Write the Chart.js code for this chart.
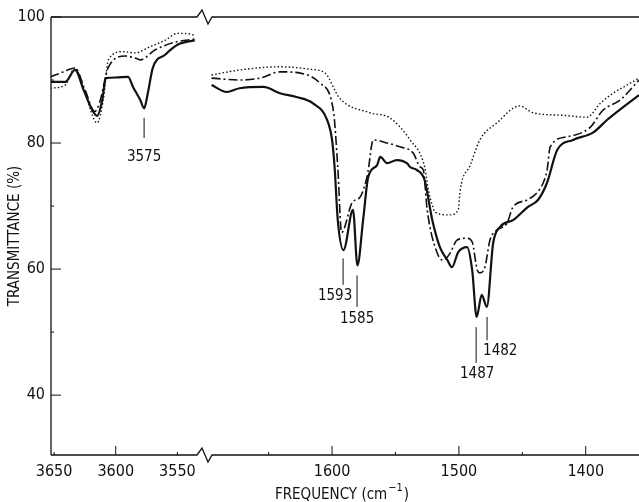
<!DOCTYPE html>
<html>
<head>
<meta charset="utf-8">
<script src="https://cdn.jsdelivr.net/npm/chart.js@4.4.1/dist/chart.umd.min.js"></script>
<style>
  html, body { margin: 0; padding: 0; background: #fff; }
</style>
</head>
<body>
<canvas id="spectrum" width="639" height="502"></canvas>
<script>
// --- O-H stretching region (left panel, cm-1) ---
var hiSolidFreq = [3653, 3641, 3633, 3626, 3619, 3615, 3611, 3608, 3600, 3590, 3586, 3580, 3577, 3574, 3570, 3560, 3550, 3536];
var hiSolidT    = [89.7, 89.7, 91.6, 88.4, 85.2, 84.3, 86.8, 90.3, 90.4, 90.5, 88.9, 86.8, 85.5, 87.9, 91.9, 94.0, 95.6, 96.3];

var hiDashFreq = [3653, 3645, 3633, 3625, 3617, 3613, 3606, 3592, 3583, 3580, 3568, 3552, 3536];
var hiDashT    = [90.5, 91.1, 91.9, 88.5, 85.0, 86.5, 92.0, 93.8, 93.4, 93.2, 94.8, 96.0, 96.5];

var hiDotFreq = [3653, 3641, 3633, 3625, 3615, 3610, 3606, 3594, 3584, 3572, 3560, 3550, 3540, 3536];
var hiDotT    = [88.7, 89.2, 91.9, 88.0, 83.2, 87.0, 93.2, 94.5, 94.3, 95.3, 96.3, 97.4, 97.3, 97.1];

// --- ring stretching region (right panel, cm-1) ---
var loSolidFreq = [1695, 1683, 1673, 1654, 1641, 1628, 1615, 1604, 1600, 1598, 1595.5, 1591, 1583.5, 1580, 1575.5, 1571.5,
                   1564.5, 1562, 1556.5, 1549, 1541, 1538.5, 1533, 1527, 1521, 1515, 1509, 1505.5, 1500.5, 1493.5, 1489.5,
                   1486, 1482, 1478, 1473, 1467.5, 1457, 1446, 1437.5, 1430.5, 1422.5, 1410, 1394, 1383, 1370.5, 1358];
var loSolidT    = [89.2, 88.1, 88.7, 88.9, 87.9, 87.3, 86.3, 83.7, 80.5, 76.2, 67.8, 63.0, 69.4, 60.6, 67.8, 74.6,
                   76.5, 77.8, 76.8, 77.3, 76.8, 76.2, 75.7, 74.1, 67.8, 63.5, 61.4, 60.3, 62.7, 63.5, 59.8,
                   52.4, 55.9, 54.0, 64.1, 66.7, 67.8, 69.8, 71.0, 73.7, 78.9, 80.5, 81.7, 83.7, 85.7, 87.6];

var loDashFreq = [1695, 1672.5, 1657, 1641, 1625, 1609.5, 1599, 1595.5, 1592.5, 1584, 1578, 1572.5, 1571.5, 1567.5, 1556.5,
                  1546.5, 1536, 1530.5, 1528, 1525, 1517, 1512.5, 1507, 1501.5, 1493.5, 1489.5, 1485.5, 1483.5, 1479.5,
                  1475.5, 1470, 1462, 1457.5, 1446, 1438.5, 1433.5, 1430.5, 1428, 1414.5, 1396.5, 1386.5, 1373, 1358];
var loDashT    = [90.3, 90.0, 90.3, 91.3, 91.1, 89.5, 85.2, 76.2, 65.8, 70.6, 71.4, 74.6, 75.7, 80.5, 80.0,
                  79.4, 78.4, 76.2, 75.7, 69.4, 62.5, 61.4, 62.5, 64.6, 64.9, 64.3, 59.8, 59.4, 60.3,
                  64.6, 66.2, 67.3, 69.8, 71.0, 72.1, 73.7, 75.7, 79.4, 81.0, 82.5, 85.2, 86.8, 90.0];

var loDotFreq = [1695, 1672.5, 1641, 1617, 1605.5, 1594, 1570, 1554.5, 1538.5, 1527, 1524, 1521.5, 1518.5, 1507, 1500.5,
                 1499, 1491, 1483.5, 1470, 1452, 1441.5, 1418, 1399, 1388.5, 1378.5, 1367.5, 1358];
var loDotT    = [90.8, 91.6, 92.1, 91.7, 91.1, 87.1, 84.8, 84.0, 80.5, 76.2, 72.5, 70.5, 69.0, 68.6, 69.4,
                 72.5, 76.5, 80.5, 83.2, 85.9, 84.8, 84.4, 84.1, 86.3, 87.9, 89.2, 90.3];

// --- axes ---
var hiTicks = [3650, 3600, 3550];
var hiTickLabels = ['3650', '3600', '3550'];
var loTicks = [1650, 1600, 1550, 1500, 1450, 1400];
var loTickLabels = ['', '1600', '', '1500', '', '1400'];
var tTicks = [40, 50, 60, 70, 80, 90, 100];
var tTickLabels = ['40', '', '60', '', '80', '', '100'];

// --- marked bands ---
var bandFreq = [3577, 1591.3, 1580.3, 1486.4, 1477.8];
var bandLabels = ['3575', '1593', '1585', '1487', '1482'];

var ink = '#111';
var fontFam = '"Liberation Sans Narrow", "DejaVu Sans Condensed", "Liberation Sans", sans-serif';

function pts(xs, ys) {
  var out = [];
  for (var i = 0; i < xs.length; i++) out.push({ x: xs[i], y: ys[i] });
  return out;
}

function series(data, axis, style) {
  var ds = {
    data: data,
    xAxisID: axis,
    yAxisID: 'y',
    borderColor: ink,
    backgroundColor: ink,
    pointRadius: 0,
    fill: false,
    cubicInterpolationMode: 'monotone'
  };
  if (style == 'solid') { ds.borderWidth = 2.2; }
  if (style == 'dash') { ds.borderWidth = 1.6; ds.borderDash = [9, 3, 2, 3]; }
  if (style == 'dot') { ds.borderWidth = 1.4; ds.borderDash = [1.5, 2.2]; }
  return ds;
}

function fitX(s) {
  s.height = 47;
  s.paddingLeft = 0;
  s.paddingRight = 0;
}

// frame with axis breaks, inward tick marks, band labels, x title
var decorations = {
  id: 'decorations',
  afterDatasetsDraw: function (chart) {
    var ctx = chart.ctx, a = chart.chartArea;
    var xHi = chart.scales.xHi, xLo = chart.scales.xLo, y = chart.scales.y;
    var j = xHi.right;
    ctx.save();
    ctx.strokeStyle = ink;
    ctx.lineWidth = 1.3;
    ctx.setLineDash([]);

    [a.top, a.bottom].forEach(function (yy) {
      ctx.beginPath();
      ctx.moveTo(a.left, yy);
      ctx.lineTo(j - 10, yy);
      ctx.lineTo(j - 5, yy - 7);
      ctx.lineTo(j + 1, yy + 7);
      ctx.lineTo(j + 5, yy);
      ctx.lineTo(a.right, yy);
      ctx.stroke();
    });
    ctx.beginPath();
    ctx.moveTo(a.left, a.top);
    ctx.lineTo(a.left, a.bottom);
    ctx.stroke();

    // tick marks pointing into the plot
    ctx.lineWidth = 1;
    [xHi, xLo].forEach(function (s) {
      s.ticks.forEach(function (t) {
        var px = s.getPixelForValue(t.value);
        var len = (t.value % 100 == 0) ? 9 : 3;
        ctx.beginPath();
        ctx.moveTo(px, a.bottom);
        ctx.lineTo(px, a.bottom - len);
        ctx.stroke();
      });
    });
    y.ticks.forEach(function (t) {
      var py = y.getPixelForValue(t.value);
      var len = (t.value % 20 == 0) ? 10 : 3;
      ctx.beginPath();
      ctx.moveTo(a.left, py);
      ctx.lineTo(a.left + len, py);
      ctx.stroke();
    });

    // band markers: [line top T, line bottom T, text T, text x shift, align]
    var marks = [
      [84.0, 80.8, 77.8, 0, 'center'],
      [61.7, 57.5, 55.7, -8, 'center'],
      [59.0, 54.0, 52.1, 0, 'center'],
      [50.8, 45.1, 43.3, 1, 'center'],
      [52.4, 48.7, 47.0, -4, 'left']
    ];
    ctx.fillStyle = ink;
    ctx.font = '15px ' + fontFam;
    ctx.textBaseline = 'middle';
    for (var i = 0; i < bandFreq.length; i++) {
      var s = i == 0 ? xHi : xLo;
      var px = s.getPixelForValue(bandFreq[i]);
      var m = marks[i];
      ctx.beginPath();
      ctx.moveTo(px, y.getPixelForValue(m[0]));
      ctx.lineTo(px, y.getPixelForValue(m[1]));
      ctx.stroke();
      ctx.textAlign = m[4];
      ctx.fillText(bandLabels[i], px + m[3], y.getPixelForValue(m[2]));
    }

    // x axis title with superscript
    var main = 'FREQUENCY (cm', sup = '\u22121', tail = ')';
    ctx.font = '15px ' + fontFam;
    var w1 = ctx.measureText(main).width, w3 = ctx.measureText(tail).width;
    ctx.font = '11px ' + fontFam;
    var w2 = ctx.measureText(sup).width;
    var cx = (a.left + a.right) / 2 - 4;
    var x0 = cx - (w1 + w2 + w3) / 2, ty = 494;
    ctx.textAlign = 'left';
    ctx.textBaseline = 'alphabetic';
    ctx.font = '15px ' + fontFam;
    ctx.fillText(main, x0, ty + 5);
    ctx.font = '11px ' + fontFam;
    ctx.fillText(sup, x0 + w1 + 1, ty - 3);
    ctx.font = '15px ' + fontFam;
    ctx.fillText(tail, x0 + w1 + w2 + 2, ty + 5);
    ctx.restore();
  }
};

var ctx = document.getElementById('spectrum');
var spectrum = new Chart(ctx, {
  type: 'line',
  data: {
    datasets: [
      series(pts(hiDotFreq, hiDotT), 'xHi', 'dot'),
      series(pts(hiDashFreq, hiDashT), 'xHi', 'dash'),
      series(pts(hiSolidFreq, hiSolidT), 'xHi', 'solid'),
      series(pts(loDotFreq, loDotT), 'xLo', 'dot'),
      series(pts(loDashFreq, loDashT), 'xLo', 'dash'),
      series(pts(loSolidFreq, loSolidT), 'xLo', 'solid')
    ]
  },
  options: {
    responsive: false,
    animation: false,
    layout: { padding: { top: 17, right: 0, bottom: 0, left: 0 } },
    plugins: { legend: { display: false }, tooltip: { enabled: false } },
    scales: {
      xHi: {
        type: 'linear', position: 'bottom', stack: 'freq', stackWeight: 156,
        reverse: true, min: 3526, max: 3652.5,
        grid: { display: false, drawTicks: false },
        border: { display: false },
        afterBuildTicks: function (s) { s.ticks = hiTicks.map(function (v) { return { value: v }; }); },
        afterFit: fitX,
        ticks: {
          autoSkip: false, maxRotation: 0, padding: 7, color: ink,
          font: { family: fontFam, size: 16 },
          callback: function (v, i) { return hiTickLabels[i]; }
        }
      },
      xLo: {
        type: 'linear', position: 'bottom', stack: 'freq', stackWeight: 432,
        reverse: true, min: 1358, max: 1698.6,
        grid: { display: false, drawTicks: false },
        border: { display: false },
        afterBuildTicks: function (s) { s.ticks = loTicks.map(function (v) { return { value: v }; }); },
        afterFit: fitX,
        ticks: {
          autoSkip: false, maxRotation: 0, padding: 7, color: ink,
          font: { family: fontFam, size: 16 },
          callback: function (v, i) { return loTickLabels[i]; }
        }
      },
      y: {
        type: 'linear', position: 'left', min: 30.5, max: 100,
        grid: { display: false, drawTicks: false },
        border: { display: false },
        afterBuildTicks: function (s) { s.ticks = tTicks.map(function (v) { return { value: v }; }); },
        afterFit: function (s) { s.width = 51; s.paddingTop = 0; s.paddingBottom = 0; },
        ticks: {
          autoSkip: false, padding: 6, color: ink,
          font: { family: fontFam, size: 16 },
          callback: function (v, i) { return tTickLabels[i]; }
        },
        title: {
          display: true, text: 'TRANSMITTANCE (%)', color: ink,
          font: { family: fontFam, size: 15 },
          padding: { top: 6, bottom: 0 }
        }
      }
    }
  },
  plugins: [decorations]
});
</script>
</body>
</html>
